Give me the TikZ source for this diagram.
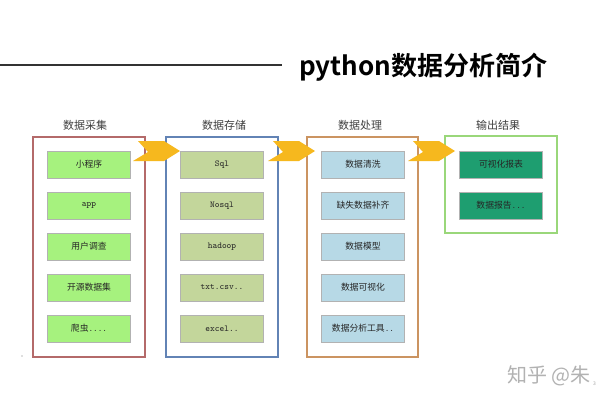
\documentclass[tikz,border=0pt]{standalone}
\usepackage{fontspec}
\setmainfont{Noto Sans CJK SC}
\newfontfamily\cjk{Noto Sans CJK SC}
\newfontfamily\cjkb{Noto Sans CJK SC Bold}
\begin{document}
\begin{tikzpicture}[x=1pt,y=-1pt,
  outerbox/.style={draw,line width=1.2pt,fill=white},
  itembox/.style={draw=gray!60,line width=0.8pt,minimum width=83pt,minimum height=27pt,inner sep=0pt,font=\cjk\fontsize{8.8}{10}\selectfont,text=black!85},
  g1/.style={itembox,fill=green1},
  g2/.style={itembox,fill=olive2},
  g3/.style={itembox,fill=blue3},
  g4/.style={itembox,fill=teal4},
  head/.style={font=\cjk\fontsize{11}{12}\selectfont,text=black!75},
  chev/.style={fill=arrowc,draw=none},
  tt/.style={font=\ttfamily\fontsize{9}{10}\selectfont}
]
\definecolor{green1}{HTML}{A6F27E}
\definecolor{olive2}{HTML}{C3D69B}
\definecolor{blue3}{HTML}{B7D9E6}
\definecolor{teal4}{HTML}{1E9E70}
\definecolor{arrowc}{HTML}{F6B81E}
\definecolor{c1}{HTML}{B46A6A}
\definecolor{c2}{HTML}{6283B5}
\definecolor{c3}{HTML}{CB9461}
\definecolor{c4}{HTML}{9AD77A}
\newcommand{\dts}[1]{{\ttfamily #1}}
\useasboundingbox (0,0) rectangle (600,400);
\fill[white] (0,0) rectangle (600,400);
% title
\coordinate (l1) at (0,65);
\coordinate (l2) at (282,65);
\draw[line width=1.4pt,black!80] (l1) -- (l2);
\node[anchor=west,inner sep=0pt,font=\cjkb\fontsize{26}{28}\selectfont] (title) at (299,67) {python数据分析简介};
% outer boxes
\draw[outerbox,draw=c1] (33,137) rectangle (145,357);
\draw[outerbox,draw=c2] (166,137) rectangle (278,357);
\draw[outerbox,draw=c3] (307,137) rectangle (418,357);
\draw[outerbox,draw=c4] (445,136) rectangle (557,233);
% headings
\node[head] (h1) at (85,125) {数据采集};
\node[head] (h2) at (224,125) {数据存储};
\node[head] (h3) at (360,125) {数据处理};
\node[head] (h4) at (498,125) {输出结果};
% chevron arrows
\foreach \x in {133,268,408}{
  \fill[chev] (\x+5,141) -- (\x+31,141) -- (\x+47,151) -- (\x+31,161) -- (\x,161) -- (\x+15,152) -- cycle;
}
% column 1
\node[g1] (a1) at (89,164.5) {小程序};
\node[g1,tt] (a2) at (89,205.5) {app};
\node[g1] (a3) at (89,246.5) {用户调查};
\node[g1] (a4) at (89,287.5) {开源数据集};
\node[g1] (a5) at (89,328.5) {爬虫\dts{....}};
% column 2
\node[g2,tt] (b1) at (222,164.5) {Sql};
\node[g2,tt] (b2) at (222,205.5) {Nosql};
\node[g2,tt] (b3) at (222,246.5) {hadoop};
\node[g2,tt] (b4) at (222,287.5) {txt.csv..};
\node[g2,tt] (b5) at (222,328.5) {excel..};
% column 3
\node[g3] (c1n) at (363,164.5) {数据清洗};
\node[g3] (c2n) at (363,205.5) {缺失数据补齐};
\node[g3] (c3n) at (363,246.5) {数据模型};
\node[g3] (c4n) at (363,287.5) {数据可视化};
\node[g3] (c5n) at (363,328.5) {数据分析工具\dts{..}};
% column 4
\node[g4] (d1) at (501,164.5) {可视化报表};
\node[g4] (d2) at (501,205.5) {数据报告\dts{...}};
% watermark
\node[anchor=west,inner sep=0pt,font=\cjk\fontsize{20}{22}\selectfont,text=gray!60] (wm) at (507,376) {知乎 @朱};
\node[anchor=west,inner sep=0pt,font=\cjk\fontsize{5}{6}\selectfont,text=gray!70] (wm2) at (593,384) {3};
\fill[gray!50] (22,356) circle (0.8);
\end{tikzpicture}
\end{document}
